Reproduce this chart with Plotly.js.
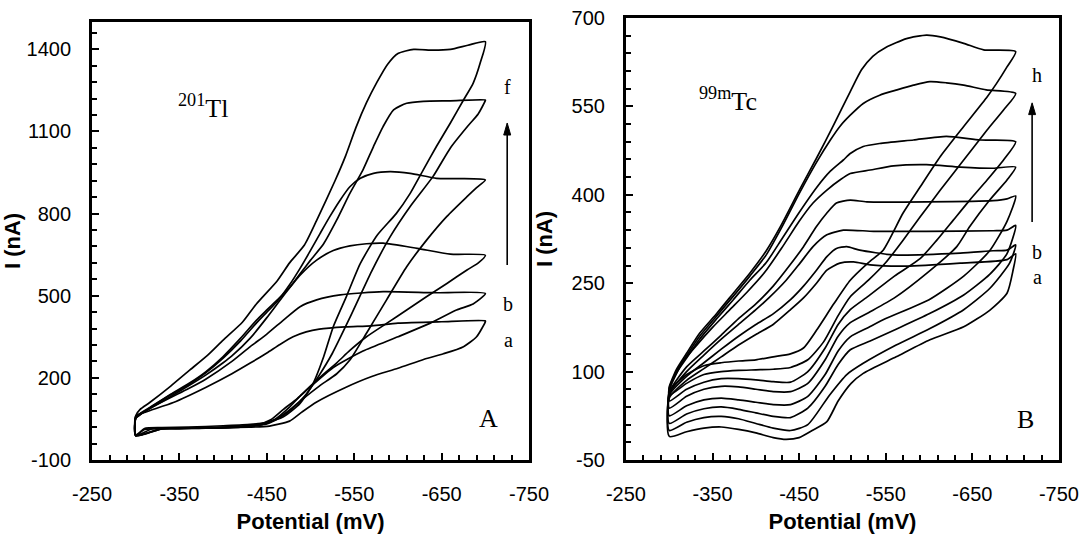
<!DOCTYPE html>
<html><head><meta charset="utf-8">
<script src="https://cdn.plot.ly/plotly-3.0.1.min.js"></script>
<style>html,body{margin:0;padding:0;background:#fff;}#chart{width:1083px;height:548px;}</style>
</head><body><div id="chart"></div>
<script>
// ---------- Panel A : 201Tl (potential in mV, current in nA) ----------
// each curve: forward branch (-300 -> -700) then reverse branch (-700 -> -300)
const tlA_lowV = [-300,-310,-320,-350,-400,-430,-453,-476,-490,-507,-540,-570,-600,-630,-652,-675,-690,-700];
const tlA_lowI = [-8,12,14,14,18,20,24,42,75,112,165,205,235,268,288,314,350,405];
const tlA_upV  = [-700,-650,-600,-570,-540,-510,-495,-480,-465,-450,-431,-410,-380,-343,-311,-300];
const tlA_upI  = [408,405,400,390,386,378,368,350,322,291,254,215,165,110,75,60];

const tlB_lowV = [-300,-320,-360,-400,-440,-455,-469,-485,-499,-526,-560,-600,-637,-667,-686,-700];
const tlB_lowI = [-10,15,16,20,30,48,85,125,165,238,298,350,400,448,470,508];
const tlB_upV  = [-700,-640,-583,-534,-507,-488,-469,-450,-431,-410,-380,-360,-340,-320,-305,-300];
const tlB_upI  = [508,511,515,503,485,460,411,360,314,260,195,160,128,95,68,55];

const tlC_lowV = [-300,-330,-380,-420,-445,-460,-475,-490,-510,-530,-545,-564,-587,-610,-633,-656,-679,-692,-700];
const tlC_lowI = [-10,15,16,20,30,50,90,140,200,255,300,350,399,448,497,545,594,620,648];
const tlC_upV  = [-700,-660,-622,-583,-564,-545,-526,-507,-488,-469,-450,-431,-410,-400,-380,-360,-340,-320,-305,-300];
const tlC_upI  = [648,652,673,692,690,682,665,630,575,500,420,345,280,255,210,170,132,95,65,52];

const tlD_lowV = [-300,-330,-380,-420,-445,-460,-475,-490,-510,-530,-545,-564,-587,-610,-633,-656,-679,-690,-700];
const tlD_lowI = [-10,14,16,22,30,48,80,120,170,215,265,363,485,606,704,790,862,895,923];
const tlD_upV  = [-700,-670,-644,-614,-591,-572,-557,-545,-534,-522,-511,-499,-488,-476,-462,-450,-438,-420,-400,-380,-362,-340,-320,-305,-300];
const tlD_upI  = [923,928,929,947,953,947,929,898,850,789,728,660,600,540,480,440,400,335,272,218,178,138,98,66,52];

const tlE_lowV = [-300,-330,-380,-420,-450,-465,-480,-495,-510,-525,-545,-570,-591,-614,-640,-660,-680,-692,-700];
const tlE_lowI = [-12,14,17,22,32,55,90,140,210,290,420,590,715,826,935,1040,1120,1165,1213];
const tlE_upV  = [-700,-660,-629,-610,-595,-583,-572,-560,-545,-530,-515,-500,-488,-476,-462,-450,-438,-420,-400,-380,-362,-340,-320,-305,-300];
const tlE_upI  = [1215,1212,1210,1203,1179,1118,1045,960,874,777,690,630,580,530,485,448,410,345,278,222,182,140,100,70,55];

const tlF_lowV = [-300,-310,-330,-360,-400,-431,-450,-469,-488,-503,-515,-526,-541,-557,-576,-598,-614,-629,-644,-660,-675,-686,-694,-700];
const tlF_lowI = [-12,15,18,20,25,30,38,58,107,180,277,387,497,618,720,800,874,960,1045,1131,1215,1276,1349,1428];
const tlF_upV  = [-700,-680,-660,-640,-618,-600,-588,-576,-564,-552,-540,-528,-507,-493,-476,-462,-438,-422,-400,-383,-362,-340,-316,-305,-300];
const tlF_upI  = [1428,1415,1400,1397,1400,1385,1345,1280,1205,1115,1010,920,775,685,620,555,470,403,338,285,229,170,110,85,62];

// ---------- Panel B : 99mTc ----------
const tcA_lowV = [-300,-320,-340,-360,-380,-400,-420,-435,-450,-465,-482,-495,-510,-524,-562,-601,-640,-670,-690,-697,-700];
const tcA_lowI = [-10,-2,4,6,2,-4,-12,-15,-12,0,15,50,80,97,125,154,176,204,233,272,300];
const tcA_upV  = [-700,-690,-636,-574,-532,-513,-497,-482,-470,-455,-440,-420,-400,-380,-360,-340,-320,-300];
const tcA_upI  = [300,290,284,279,281,286,284,272,250,225,205,180,163,145,125,105,85,55];

const tcB_lowV = [-300,-320,-340,-360,-380,-400,-420,-440,-460,-485,-505,-524,-562,-601,-640,-670,-693,-700];
const tcB_lowI = [0,14,22,24,20,12,4,0,10,60,95,114,145,173,205,241,284,315];
const tcB_upV  = [-700,-690,-674,-636,-559,-520,-505,-493,-482,-470,-455,-440,-420,-400,-380,-360,-340,-320,-300];
const tcB_upI  = [315,306,305,301,298,306,312,309,295,272,245,222,198,180,160,138,115,92,60];

const tcC_lowV = [-300,-320,-340,-360,-380,-400,-420,-440,-460,-480,-495,-509,-532,-562,-600,-640,-670,-690,-700];
const tcC_lowI = [12,28,37,40,36,30,24,22,38,75,112,137,152,172,198,230,265,300,348];
const tcC_upV  = [-700,-690,-674,-597,-536,-501,-482,-466,-451,-435,-415,-400,-380,-360,-340,-320,-300];
const tcC_upI  = [348,340,339,338,338,340,332,312,284,255,225,205,180,155,128,100,62];

const tcD_lowV = [-300,-320,-340,-360,-380,-400,-420,-440,-460,-480,-495,-509,-530,-550,-600,-640,-670,-690,-700];
const tcD_lowI = [25,42,52,55,52,48,44,44,58,95,135,159,175,190,222,262,305,355,398];
const tcD_upV  = [-700,-690,-674,-597,-528,-509,-493,-482,-470,-455,-440,-420,-400,-380,-360,-340,-320,-300];
const tcD_upI  = [398,393,390,388,388,391,386,369,346,312,282,245,215,190,162,135,108,65];

const tcE_lowV = [-300,-320,-340,-360,-380,-400,-420,-440,-460,-480,-495,-509,-530,-560,-600,-632,-647,-670,-690,-700];
const tcE_lowI = [38,58,70,75,74,70,66,66,80,120,160,183,200,225,270,312,346,391,425,447];
const tcE_upV  = [-700,-674,-636,-597,-559,-532,-509,-497,-482,-466,-450,-430,-410,-390,-370,-350,-330,-315,-300];
const tcE_upI  = [447,445,447,451,449,442,436,425,408,386,355,310,268,235,205,175,142,115,68];

const tcF_lowV = [-300,-320,-340,-360,-380,-400,-420,-440,-460,-480,-495,-509,-530,-560,-590,-609,-628,-647,-667,-686,-700];
const tcF_lowI = [50,70,82,88,88,86,83,82,100,140,180,205,228,262,292,323,357,391,425,459,490];
const tcF_upV  = [-700,-659,-620,-582,-543,-524,-509,-501,-486,-470,-450,-430,-412,-393,-374,-355,-335,-320,-308,-300];
const tcF_upI  = [490,493,499,493,487,482,470,459,440,412,370,325,285,255,222,190,155,123,97,70];

const tcG_lowV = [-300,-320,-340,-360,-380,-400,-420,-440,-460,-478,-495,-509,-530,-550,-570,-590,-613,-640,-667,-686,-700];
const tcG_lowI = [60,80,95,100,102,103,104,107,120,150,195,227,255,285,323,363,408,459,510,544,572];
const tcG_upV  = [-700,-666,-640,-620,-601,-582,-563,-543,-524,-509,-497,-486,-470,-450,-430,-412,-393,-374,-355,-335,-320,-308,-300];
const tcG_upI  = [572,578,586,590,592,586,578,569,555,535,516,493,455,402,345,298,262,228,195,160,127,100,72];

const tcH_lowV = [-300,-320,-340,-360,-380,-400,-420,-440,-455,-470,-490,-509,-530,-547,-570,-590,-613,-640,-667,-678,-690,-700];
const tcH_lowI = [70,95,110,115,118,120,125,130,140,170,215,255,285,306,369,414,465,516,566,589,617,643];
const tcH_upV  = [-700,-663,-640,-613,-597,-574,-550,-535,-522,-509,-489,-470,-451,-428,-412,-393,-374,-355,-335,-320,-308,-300];
const tcH_upI  = [643,646,657,668,671,665,650,635,612,575,516,462,410,345,305,267,233,199,165,131,103,74];

// axis ticks
const potTickVals = [-250,-350,-450,-550,-650,-750];
const potTickText = ['-250','-350','-450','-550','-650','-750'];
const tlTickVals = [-100,200,500,800,1100,1400];
const tlTickText = ['-100','200','500','800','1100','1400'];
const tcTickVals = [-50,100,250,400,550,700];
const tcTickText = ['-50','100','250','400','550','700'];

function loop(lv, li, uv, ui, xa, ya) {
  // join forward and reverse branches (drop duplicated turning point) and close the loop
  let sv = uv, si = ui;
  if (uv[0] === lv[lv.length - 1] && ui[0] === li[li.length - 1]) { sv = uv.slice(1); si = ui.slice(1); }
  return {
    type: 'scatter', mode: 'lines',
    x: lv.concat(sv, [lv[0]]), y: li.concat(si, [li[0]]),
    xaxis: xa, yaxis: ya,
    line: {color: '#000', width: 1.7, shape: 'spline', smoothing: 0.6},
    showlegend: false, hoverinfo: 'skip'
  };
}

const traces = [
  loop(tlA_lowV, tlA_lowI, tlA_upV, tlA_upI, 'x', 'y'),
  loop(tlB_lowV, tlB_lowI, tlB_upV, tlB_upI, 'x', 'y'),
  loop(tlC_lowV, tlC_lowI, tlC_upV, tlC_upI, 'x', 'y'),
  loop(tlD_lowV, tlD_lowI, tlD_upV, tlD_upI, 'x', 'y'),
  loop(tlE_lowV, tlE_lowI, tlE_upV, tlE_upI, 'x', 'y'),
  loop(tlF_lowV, tlF_lowI, tlF_upV, tlF_upI, 'x', 'y'),
  loop(tcA_lowV, tcA_lowI, tcA_upV, tcA_upI, 'x2', 'y2'),
  loop(tcB_lowV, tcB_lowI, tcB_upV, tcB_upI, 'x2', 'y2'),
  loop(tcC_lowV, tcC_lowI, tcC_upV, tcC_upI, 'x2', 'y2'),
  loop(tcD_lowV, tcD_lowI, tcD_upV, tcD_upI, 'x2', 'y2'),
  loop(tcE_lowV, tcE_lowI, tcE_upV, tcE_upI, 'x2', 'y2'),
  loop(tcF_lowV, tcF_lowI, tcF_upV, tcF_upI, 'x2', 'y2'),
  loop(tcG_lowV, tcG_lowI, tcG_upV, tcG_upI, 'x2', 'y2'),
  loop(tcH_lowV, tcH_lowI, tcH_upV, tcH_upI, 'x2', 'y2')
];

const sans = 'Arial, "Liberation Sans", sans-serif';
const serif = '"Times New Roman", "Liberation Serif", serif';
const tickFont = {family: sans, size: 20, color: '#000'};
const titleFont = {family: sans, size: 22, color: '#000', weight: 'bold'};

function xAxis(domain, anchor) {
  return {
    domain: domain, anchor: anchor, range: [-250, -750], autorange: false,
    tickmode: 'array', tickvals: potTickVals, ticktext: potTickText,
    ticks: 'inside', ticklen: 7, tickwidth: 2, tickcolor: '#000',
    minor: {ticks: 'inside', tick0: -250, dtick: 20, ticklen: 5, tickwidth: 2, tickcolor: '#000'},
    showline: true, linewidth: 3, linecolor: '#000', mirror: true,
    showgrid: false, zeroline: false, tickfont: tickFont, ticklabelstandoff: 14,
    title: {text: 'Potential (mV)', font: titleFont, standoff: 10}
  };
}
function yAxis(domain, anchor, range, vals, text, minorStart, minorStep, standoff) {
  return {
    domain: domain, anchor: anchor, range: range, autorange: false,
    tickmode: 'array', tickvals: vals, ticktext: text,
    ticks: 'inside', ticklen: 7, tickwidth: 2, tickcolor: '#000',
    minor: {ticks: 'inside', tick0: minorStart, dtick: minorStep, ticklen: 5, tickwidth: 2, tickcolor: '#000'},
    showline: true, linewidth: 3, linecolor: '#000', mirror: true,
    showgrid: false, zeroline: false, tickfont: tickFont, ticklabelstandoff: 14,
    title: {text: 'I (nA)', font: titleFont, standoff: standoff}
  };
}

const labelFont = {family: serif, size: 20, color: '#000'};
const bigFont = {family: serif, size: 26, color: '#000'};

const layout = {
  width: 1083, height: 548,
  margin: {l: 0, r: 0, t: 0, b: 0},
  paper_bgcolor: '#fff', plot_bgcolor: '#fff',
  showlegend: false,
  xaxis: xAxis([0.0850, 0.4885], 'y'),
  yaxis: yAxis([0.1606, 0.9599], 'x', [-100, 1500], tlTickVals, tlTickText, -100, 60, 7),
  xaxis2: xAxis([0.5780, 0.9778], 'y2'),
  yaxis2: yAxis([0.1606, 0.9672], 'x2', [-50, 700], tcTickVals, tcTickText, -50, 30, 13),
  annotations: [
    {xref: 'x', yref: 'y', x: -377, y: 1193, text: '<sup>201</sup>Tl', showarrow: false, font: bigFont},
    {xref: 'x', yref: 'y', x: -725, y: 1263, text: 'f', showarrow: false, font: labelFont},
    {xref: 'x', yref: 'y', x: -726, y: 470, text: 'b', showarrow: false, font: labelFont},
    {xref: 'x', yref: 'y', x: -726, y: 338, text: 'a', showarrow: false, font: labelFont},
    {xref: 'x', yref: 'y', x: -704, y: 50, text: 'A', showarrow: false, font: bigFont},
    {xref: 'x2', yref: 'y2', x: -368, y: 561, text: '<sup>99m</sup>Tc', showarrow: false, font: bigFont},
    {xref: 'x2', yref: 'y2', x: -725, y: 603, text: 'h', showarrow: false, font: labelFont},
    {xref: 'x2', yref: 'y2', x: -725, y: 303, text: 'b', showarrow: false, font: labelFont},
    {xref: 'x2', yref: 'y2', x: -725, y: 260, text: 'a', showarrow: false, font: labelFont},
    {xref: 'x2', yref: 'y2', x: -711, y: 18, text: 'B', showarrow: false, font: bigFont}
  ],
  shapes: [
    // arrow in panel A (shaft + head)
    {type: 'line', xref: 'x', yref: 'y', x0: -725, y0: 612, x1: -725, y1: 1095, line: {color: '#000', width: 1.6}},
    {type: 'path', xref: 'x', yref: 'y', path: 'M -721 1087 L -729 1087 L -725 1131 Z', fillcolor: '#000', line: {color: '#000', width: 1}},
    // arrow in panel B
    {type: 'line', xref: 'x2', yref: 'y2', x0: -719, y0: 354, x1: -719, y1: 540, line: {color: '#000', width: 1.6}},
    {type: 'path', xref: 'x2', yref: 'y2', path: 'M -715 536 L -723 536 L -719 556 Z', fillcolor: '#000', line: {color: '#000', width: 1}}
  ]
};

Plotly.newPlot('chart', traces, layout, {staticPlot: true, displayModeBar: false});
</script>
</body></html>
